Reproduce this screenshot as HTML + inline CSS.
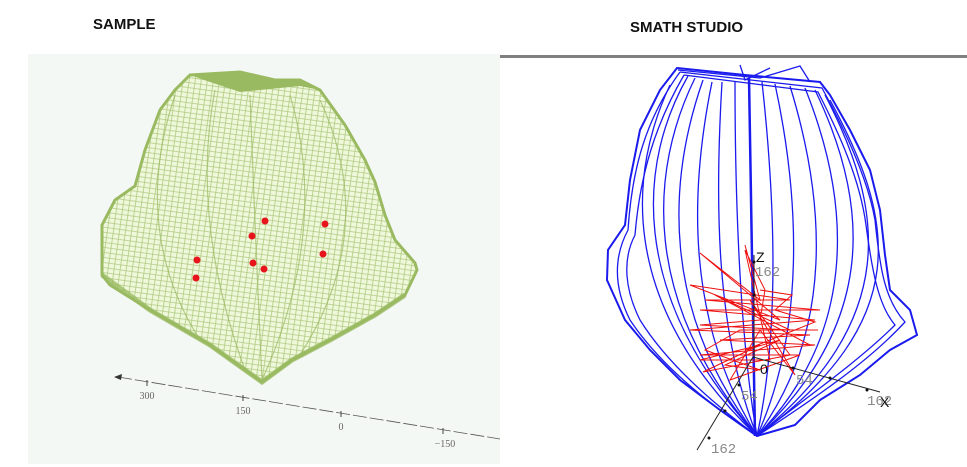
<!DOCTYPE html>
<html><head><meta charset="utf-8"><style>
html,body{margin:0;padding:0;background:#fff;}
body{width:967px;height:467px;overflow:hidden;position:relative;font-family:"Liberation Sans",sans-serif;}
.t{position:absolute;font-weight:bold;font-size:15px;color:#111;}
</style></head><body>
<div class="t" style="left:93px;top:16px;">SAMPLE</div>
<div class="t" style="left:630px;top:19px;">SMATH STUDIO</div>
<svg width="967" height="467" style="position:absolute;left:0;top:0" xmlns="http://www.w3.org/2000/svg">
<defs>
<pattern id="mesh" width="6" height="5" patternUnits="userSpaceOnUse" patternTransform="rotate(8)">
<rect width="6" height="5" fill="#f0f8dc"/>
<path d="M0 0.5H6M0.5 0V5" stroke="#afcb80" stroke-width="0.8"/>
</pattern>
</defs>
<rect x="28" y="54" width="472" height="410" fill="#f4f8f4"/>
<rect x="500" y="55" width="467" height="3" fill="#808080"/>
<path d="M190 75 L240 72 L275 80 L300 80 L320 90 L345 125 L365 160 L375 182 L385 215 L395 240 L415 263 L417 270 L405 295 L375 315 L330 340 L292 360 L262 382 L245 370 L210 345 L150 310 L110 285 L102 275 L102 225 L115 200 L135 186 L145 150 L160 110 L175 90 Z" fill="url(#mesh)" stroke="#9aba62" stroke-width="3"/>
<path d="M190 75 L240 72 L275 80 L300 80 L320 90 L300 86 L260 90 L240 92 L210 82 Z" fill="#9aba62"/>
<path d="M102 275 L150 310 L210 345 L245 370 L262 382 L292 360 L330 340 L375 315 L405 295" fill="none" stroke="#9aba62" stroke-width="5" opacity="0.8"/>
<g stroke="#9aba62" stroke-width="1.2" fill="none" opacity="0.7">
<path d="M250 95 Q255 230 262 380"/><path d="M215 90 Q190 220 245 370"/><path d="M290 95 Q330 230 262 380"/>
<path d="M175 95 Q130 230 200 340"/><path d="M320 100 Q380 230 300 355"/>
</g>
<g fill="#e8141c">
<circle cx="265" cy="221" r="3.5"/><circle cx="252" cy="236" r="3.5"/><circle cx="197" cy="260" r="3.5"/><circle cx="196" cy="278" r="3.5"/><circle cx="253" cy="263" r="3.5"/><circle cx="264" cy="269" r="3.5"/><circle cx="325" cy="224" r="3.5"/><circle cx="323" cy="254" r="3.5"/>
</g>
<line x1="118" y1="377" x2="500" y2="439" stroke="#555" stroke-width="0.8" stroke-dasharray="14,3"/>
<path d="M114 377 L122 374 L121 380 Z" fill="#333"/>
<g stroke="#444" stroke-width="1"><line x1="147" y1="380" x2="147" y2="386"/><line x1="243" y1="395" x2="243" y2="401"/><line x1="341" y1="411" x2="341" y2="417"/><line x1="443" y1="428" x2="443" y2="434"/></g>
<g font-family="Liberation Serif,serif" font-size="10" fill="#666" text-anchor="middle">
<text x="147" y="399">300</text><text x="243" y="414">150</text><text x="341" y="430">0</text><text x="445" y="447">−150</text></g>
<g stroke="#1a1aee" stroke-width="1.3" fill="none">
<path d="M677 68 L745 75 L820 82 L830 95 L850 130 L870 170 L880 210 L885 255 L890 290 L910 310 L917 335 L890 350 L860 375 L820 400 L795 425 L757 436 L720 410 L680 380 L650 350 L625 320 L607 280 L608 250 L625 225 L630 180 L640 130 L660 90 Z" stroke-width="2"/>
<path d="M680 72 L822 88 C845 130 868 180 875 220 C880 270 885 300 905 322 C870 360 820 395 757 436 C710 405 660 365 630 320 C615 290 612 260 628 230 C632 170 645 120 680 72"/>
<path d="M684 75 L818 92 C840 135 860 180 866 225 C872 270 878 305 895 325 C860 360 810 395 757 436 C715 405 668 365 640 320 C625 290 622 260 635 235 C640 175 655 125 684 75"/>
<path d="M688 76 C640 160 625 290 757 436"/><path d="M695 78 C650 170 640 300 757 436"/>
<path d="M703 80 C668 180 660 310 757 436"/><path d="M712 82 C690 190 685 320 757 436"/>
<path d="M722 82 C715 200 715 330 757 436"/><path d="M735 82 C735 200 740 340 757 436"/>
<path d="M762 82 C775 200 780 330 757 436"/><path d="M775 84 C800 200 805 330 757 436"/>
<path d="M790 86 C825 200 835 330 757 436"/><path d="M805 88 C850 200 860 330 757 436"/>
<path d="M815 90 C868 200 880 320 757 436"/><path d="M825 95 C885 210 900 320 757 436"/>
<path d="M830 100 C895 220 915 320 757 436"/><path d="M670 85 C630 170 615 300 757 436"/>
<path d="M678 70 L760 78 L800 66 L810 82"/><path d="M740 65 L745 80 L770 68"/>
<line x1="749" y1="78" x2="755" y2="436" stroke-width="2.5"/>
</g>
<g stroke="#ee1010" stroke-width="1" fill="none">
<polyline points="745,245 760,300 700,253 780,320 690,285 790,300 705,300 820,310 700,310 815,320 690,330 810,335 720,340 815,345 700,355 800,355 730,380 760,330 795,375 750,300 790,355 703,372 760,345 700,360 770,360 745,250 765,290 760,320 700,325 790,330 715,295 810,345"/>
<polyline points="760,290 792,295 775,310 815,322 745,350 780,340 725,365 760,370 705,350 740,330 818,330"/>
</g>
<g stroke="#222" stroke-width="1"><line x1="753" y1="357" x2="880" y2="392"/><line x1="753" y1="357" x2="697" y2="450"/><line x1="754" y1="255" x2="754" y2="357"/></g>
<g fill="#111"><circle cx="793" cy="368" r="1.5"/><circle cx="830" cy="378" r="1.5"/><circle cx="867" cy="390" r="1.5"/><circle cx="739" cy="385" r="1.5"/><circle cx="725" cy="411" r="1.5"/><circle cx="709" cy="438" r="1.5"/><circle cx="754" cy="262" r="1.5"/><circle cx="754" cy="295" r="1.5"/></g>
<g font-family="Liberation Mono,monospace" font-size="14" fill="#888">
<text x="755" y="276">162</text><text x="796" y="384">54</text><text x="867" y="405">162</text><text x="741" y="400">54</text><text x="711" y="453">162</text></g>
<g font-family="Liberation Sans,sans-serif" font-size="14" fill="#111"><text x="756" y="262">Z</text><text x="760" y="374">0</text><text x="880" y="407">X</text></g>
</svg>
</body></html>
